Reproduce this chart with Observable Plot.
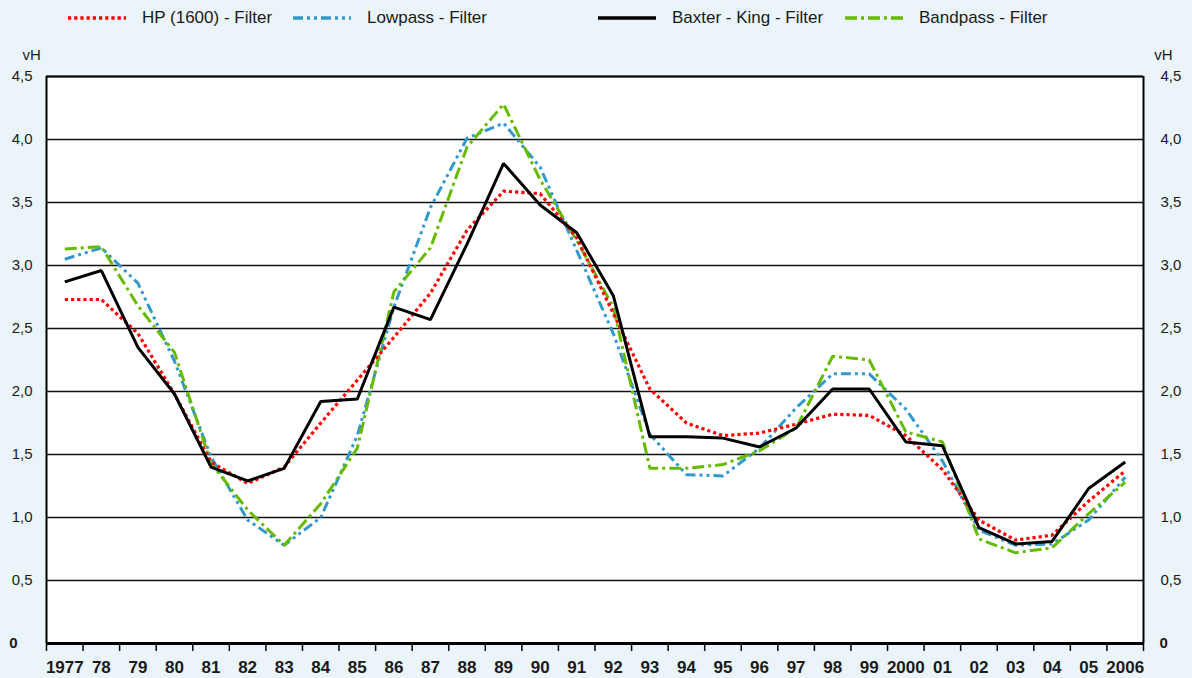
<!DOCTYPE html>
<html><head><meta charset="utf-8">
<script src="https://cdn.jsdelivr.net/npm/d3@7"></script>
<script src="https://cdn.jsdelivr.net/npm/@observablehq/plot@0.6"></script>
<style>
body{margin:0;background:#ebf4f8;font-family:"Liberation Sans",Arial,sans-serif;}
#legend{height:36px;position:relative;width:1192px;}
.item{position:absolute;top:8px;display:flex;align-items:center;font-size:17px;color:#1a1a1a;white-space:nowrap;}
.item svg{margin-right:16px;}
#chart svg{display:block;}
</style></head><body>
<div id="legend"></div><div id="chart"></div>
<script>
const years = [1977,1978,1979,1980,1981,1982,1983,1984,1985,1986,1987,1988,1989,1990,1991,1992,1993,1994,1995,1996,1997,1998,1999,2000,2001,2002,2003,2004,2005,2006];
const yearLabels = ["1977","78","79","80","81","82","83","84","85","86","87","88","89","90","91","92","93","94","95","96","97","98","99","2000","01","02","03","04","05","2006"];
const yTicks = [0.5,1.0,1.5,2.0,2.5,3.0,3.5,4.0,4.5];
const hp       = [2.73,2.73,2.46,1.98,1.44,1.27,1.40,1.75,2.09,2.43,2.78,3.28,3.59,3.57,3.22,2.62,2.02,1.75,1.65,1.67,1.74,1.82,1.81,1.65,1.38,0.98,0.82,0.86,1.13,1.37];
const lowpass  = [3.05,3.14,2.86,2.24,1.48,0.98,0.78,1.00,1.65,2.67,3.46,4.01,4.13,3.78,3.12,2.46,1.66,1.34,1.33,1.55,1.87,2.14,2.14,1.86,1.45,0.90,0.78,0.79,0.98,1.32];
const baxter   = [2.87,2.96,2.35,1.98,1.40,1.29,1.39,1.92,1.94,2.67,2.57,3.17,3.81,3.48,3.26,2.76,1.64,1.64,1.63,1.56,1.71,2.02,2.02,1.60,1.57,0.92,0.79,0.81,1.23,1.44];
const bandpass = [3.13,3.15,2.68,2.31,1.43,1.06,0.78,1.11,1.55,2.79,3.14,3.94,4.28,3.68,3.20,2.67,1.39,1.39,1.42,1.53,1.71,2.28,2.25,1.68,1.60,0.83,0.72,0.76,1.03,1.28];

const series = [
  {name:"HP (1600) - Filter", values:hp, color:"#ff0000", dash:"3.2,3", width:3.2, left:68},
  {name:"Lowpass - Filter", values:lowpass, color:"#3399cc", dash:"10,4,3,4,3,4", width:3, left:293},
  {name:"Baxter - King - Filter", values:baxter, color:"#000000", dash:null, width:3, left:598},
  {name:"Bandpass - Filter", values:bandpass, color:"#66bb00", dash:"12,4,3,4", width:3, left:845}
];
const labelMap = new Map(years.map((y,i)=>[y, yearLabels[i]]));
const boundaries = years.map(y=>y-0.5).concat([years[years.length-1]+0.5]);
const fmt = d => d.toFixed(1).replace(".", ",");

// legend
const leg = document.getElementById("legend");
for (const s of series) {
  const div = document.createElement("div");
  div.className = "item";
  div.style.left = s.left + "px";
  div.innerHTML = `<svg width="58" height="10"><line x1="0" x2="58" y1="5" y2="5" stroke="${s.color}" stroke-width="${s.width+0.5}" ${s.dash?`stroke-dasharray="${s.dash}"`:""}/></svg><span>${s.name}</span>`;
  leg.appendChild(div);
}

const order = [1,3,0,2];
const lineMarks = order.map(k => {
  const s = series[k];
  const data = years.map((y,i)=>({year:y, value:s.values[i]}));
  return Plot.line(data, {x:"year", y:"value", stroke:s.color, strokeWidth:s.width, strokeDasharray:s.dash ?? undefined, strokeLinejoin:"miter", strokeLinecap:"butt"});
});

const chart = Plot.plot({
  width:1192, height:642,
  marginTop:40, marginBottom:35, marginLeft:46, marginRight:49,
  x:{domain:[1976.5, 2006.5]},
  y:{domain:[0, 4.5]},
  style:{background:"transparent", fontFamily:"'Liberation Sans', Arial, sans-serif", color:"#1a1a1a"},
  marks:[
    Plot.frame({fill:"white", stroke:null}),
    Plot.gridY({ticks:yTicks, stroke:"#111", strokeOpacity:1, strokeWidth:1.5}),
    ...lineMarks,
    Plot.ruleX([boundaries[0], boundaries[boundaries.length-1]], {stroke:"#000", strokeWidth:2}),
    Plot.ruleY([4.5], {stroke:"#000", strokeWidth:2}),
    Plot.ruleY([0], {stroke:"#000", strokeWidth:3}),
    Plot.axisX({ticks:boundaries, tickSize:8, tickFormat:()=>"", stroke:"#000", strokeWidth:1.5, label:null}),
    Plot.axisX({ticks:years, tickSize:0, tickPadding:17, tickFormat:d=>labelMap.get(d), fontWeight:"bold", fontSize:17, label:null}),
    Plot.axisY({anchor:"left", ticks:yTicks, tickSize:0, tickPadding:14, tickFormat:fmt, fontSize:15, label:null}),
    Plot.axisY({anchor:"right", ticks:yTicks, tickSize:0, tickPadding:17, tickFormat:fmt, fontSize:15, label:null}),
    Plot.axisY({anchor:"left", ticks:[0], tickSize:0, tickPadding:29, tickFormat:d=>"0", fontSize:15, fontWeight:"bold", label:null}),
    Plot.axisY({anchor:"right", ticks:[0], tickSize:0, tickPadding:16, tickFormat:d=>"0", fontSize:15, fontWeight:"bold", label:null}),
    Plot.text(["vH"], {frameAnchor:"top-left", dx:-24, dy:-27, text:d=>d, fontSize:15}),
    Plot.text(["vH"], {frameAnchor:"top-right", dx:29, dy:-27, text:d=>d, fontSize:15})
  ]
});
document.getElementById("chart").appendChild(chart);
</script>
</body></html>
